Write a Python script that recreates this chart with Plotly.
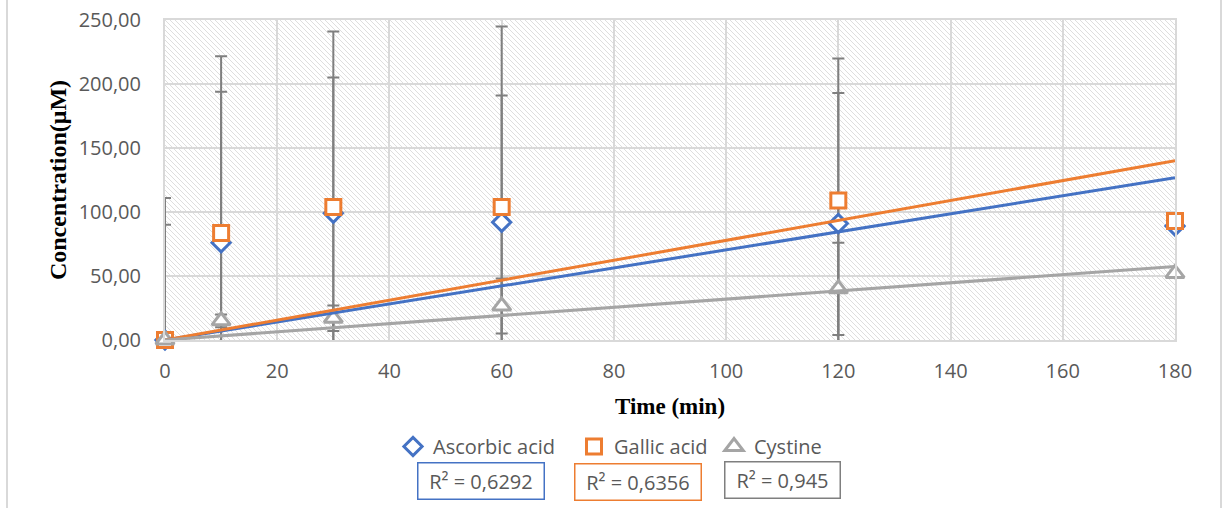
import base64
import numpy as np
import plotly.graph_objects as go

# ---------------- data ----------------
time_min = [0, 10, 30, 60, 120, 180]

ascorbic = [0, 76, 99, 92, 91, 89]
gallic = [0, 83.6, 104, 104, 109, 93]
cystine = [0, 15, 17, 26.5, 40, 52]

ascorbic_err = [90, 118, 106, 99, 102, 0]
gallic_err = [111, 138, 137, 141, 111, 0]
cystine_err = [0, 5, 10, 21.5, 36, 0]

series_names = ["Ascorbic acid", "Gallic acid", "Cystine"]
r2_labels = ["R² = 0,6292", "R² = 0,6356", "R² = 0,945"]

x_ticks = [0, 20, 40, 60, 80, 100, 120, 140, 160, 180]
y_ticks = [0, 50, 100, 150, 200, 250]

# ---------------- styles ----------------
BLUE = "#4472C4"
ORANGE = "#ED7D31"
GREY = "#A5A5A5"
ERR = "#7F7F7F"
TXT = "#595959"
GRID = "#D9D9D9"
FONT = "Open Sans"

colors = [BLUE, ORANGE, GREY]
symbols = ["diamond", "square", "triangle-up"]
sizes = [14, 15, 16]
box_colors = [BLUE, ORANGE, "#7F7F7F"]

W, H = 1223, 508
L, R, T, B = 165, 48, 20, 168
PW, PH = W - L - R, H - T - B

def px_x(p):
    return (p - L) / PW

def px_y(p):
    return (H - B - p) / PH

# hatch background image (diagonal "\" lines)
s = 5
svg = (
    f'<svg xmlns="http://www.w3.org/2000/svg" width="{PW}" height="{PH}" shape-rendering="crispEdges">'
    f'<defs><pattern id="h" width="{s}" height="{s}" patternUnits="userSpaceOnUse">'
    f'<path d="M0,0 L{s},{s} M-1,{s-1} L1,{s+1} M{s-1},-1 L{s+1},1" '
    f'stroke="#DEDEDE" stroke-width="1"/></pattern></defs>'
    f'<rect width="{PW}" height="{PH}" fill="white"/>'
    f'<rect width="{PW}" height="{PH}" fill="url(#h)"/></svg>'
)
svg_uri = "data:image/svg+xml;base64," + base64.b64encode(svg.encode()).decode()

fig = go.Figure()

values = [ascorbic, gallic, cystine]
errors = [ascorbic_err, gallic_err, cystine_err]

# error bars (beneath everything)
for v, e in zip(values, errors):
    fig.add_trace(go.Scatter(
        x=time_min, y=v, mode="markers",
        marker=dict(size=1, color="rgba(0,0,0,0)"),
        error_y=dict(type="data", array=e, visible=True, color=ERR, thickness=2, width=6),
        showlegend=False, hoverinfo="skip",
    ))

# markers, each with its own legend
legend_ids = ["legend", "legend2", "legend3"]
for name, v, c, sym, sz, lg in zip(series_names, values, colors, symbols, sizes, legend_ids):
    fig.add_trace(go.Scatter(
        x=time_min, y=v, mode="markers", name=name, legend=lg,
        marker=dict(symbol=sym, size=sz, color="white", line=dict(color=c, width=3)),
        cliponaxis=False,
    ))

# linear trendlines through origin
xs = np.array(time_min, dtype=float)
for v, c in zip(values, colors):
    ys = np.array(v, dtype=float)
    slope = float((xs * ys).sum() / (xs * xs).sum())
    fig.add_trace(go.Scatter(
        x=[0, 180], y=[0, slope * 180], mode="lines",
        line=dict(color=c, width=3), showlegend=False, hoverinfo="skip",
    ))

# R² boxes
box_centers = [(481, 481, 117), (638, 482, 117), (782, 480, 106)]
annotations = []
for (cx, cy, bw), txt, bc in zip(box_centers, r2_labels, box_colors):
    annotations.append(dict(
        x=px_x(cx), y=px_y(cy), xref="paper", yref="paper",
        text=txt, showarrow=False, xanchor="center", yanchor="middle",
        font=dict(family=FONT, size=20, color=TXT),
        bordercolor=bc, borderwidth=1.5, borderpad=4,
        width=bw, height=27, bgcolor="white",
    ))

shapes = [
    dict(type="line", xref="paper", yref="paper", x0=px_x(7), x1=px_x(7),
         y0=px_y(0), y1=px_y(H), line=dict(color=GRID, width=2)),
    dict(type="line", xref="paper", yref="paper", x0=px_x(1221), x1=px_x(1221),
         y0=px_y(0), y1=px_y(H), line=dict(color=GRID, width=2)),
]

def legend_at(px_left):
    return dict(
        orientation="h", x=px_x(px_left), y=px_y(427), xanchor="left", yanchor="top",
        font=dict(family=FONT, size=20, color=TXT), itemwidth=30,
        bgcolor="rgba(0,0,0,0)",
    )

fig.update_layout(
    width=W, height=H,
    margin=dict(l=L, r=R, t=T, b=B, autoexpand=False),
    paper_bgcolor="white", plot_bgcolor="white",
    separators=", ",
    font=dict(family=FONT, size=20, color=TXT),
    images=[dict(source=svg_uri, xref="x", yref="y", x=0, y=250, sizex=180, sizey=250,
                 sizing="stretch", layer="below", xanchor="left", yanchor="top")],
    xaxis=dict(
        range=[0, 180], tickvals=x_ticks, tickformat="d",
        showgrid=True, gridcolor=GRID, gridwidth=2,
        showline=True, mirror=True, linecolor=GRID, linewidth=2,
        ticks="outside", ticklen=12, tickcolor="rgba(0,0,0,0)",
        tickfont=dict(family=FONT, size=20, color=TXT),
        zeroline=False,
        title=dict(text="Time (min)", standoff=15,
                   font=dict(family="Liberation Serif", size=23, color="black", weight="bold")),
    ),
    yaxis=dict(
        range=[0, 250], tickvals=y_ticks, tickformat=".2f",
        showgrid=True, gridcolor=GRID, gridwidth=2,
        showline=True, mirror=True, linecolor=GRID, linewidth=2,
        ticks="outside", ticklen=18, tickcolor="rgba(0,0,0,0)",
        tickfont=dict(family=FONT, size=20, color=TXT),
        zeroline=False,
        title=dict(text="Concentration(μM)", standoff=5,
                   font=dict(family="Liberation Serif", size=24, color="black", weight="bold")),
    ),
    legend=legend_at(393),
    legend2=legend_at(574),
    legend3=legend_at(714),
    annotations=annotations,
    shapes=shapes,
)

fig.write_html("out.html")
